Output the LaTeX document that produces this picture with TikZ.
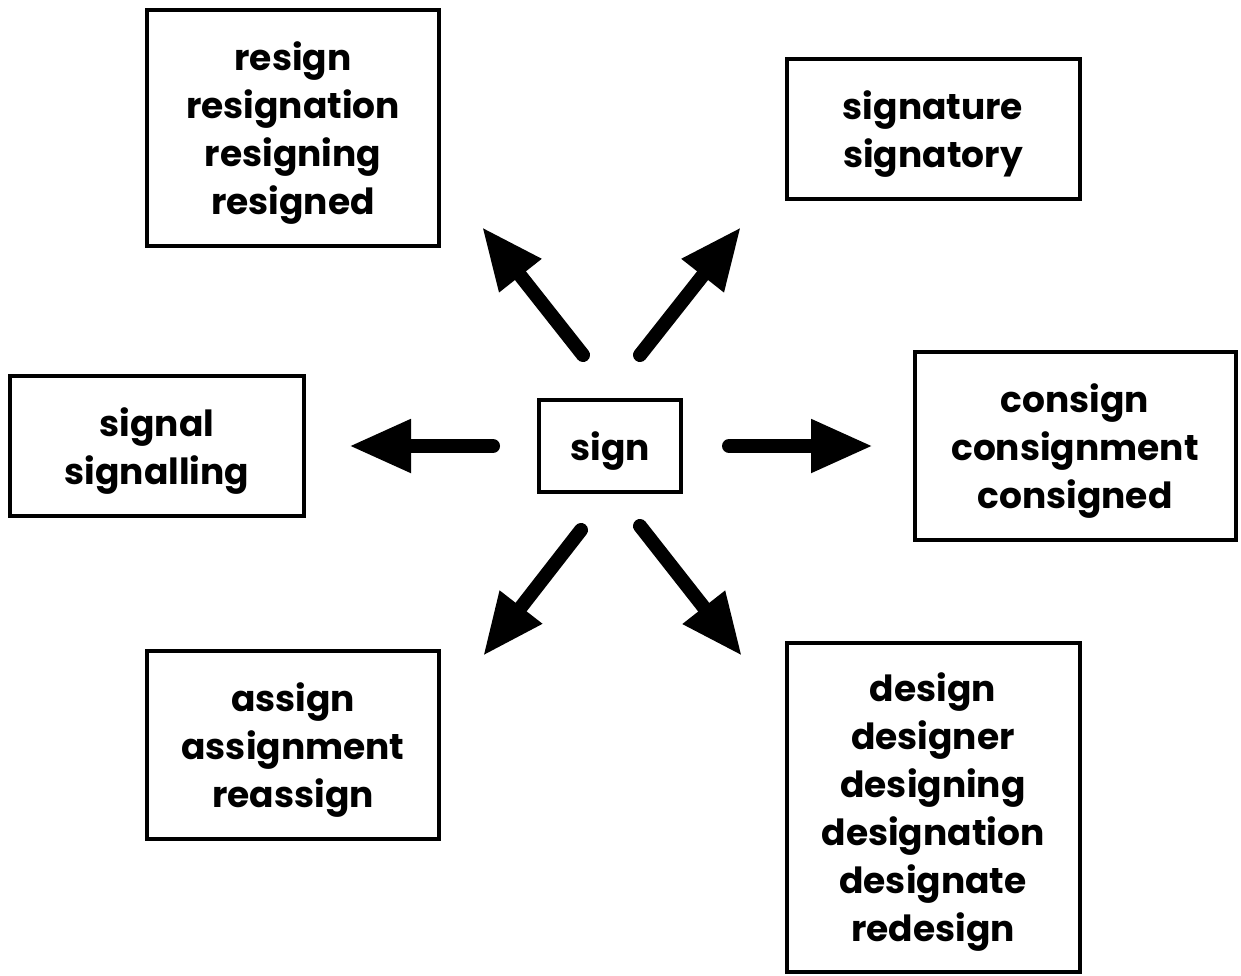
\documentclass[tikz,border=0pt]{standalone}
\usepackage{fontspec}
\setmainfont{Poppins}
\usetikzlibrary{positioning,arrows.meta}

\begin{document}
\begin{tikzpicture}
[x=1pt,y=-1pt,
 word/.style={draw,line width=4pt,inner sep=0pt},
 words/.style={align=center,inner sep=0pt,yshift=-5pt,
   font=\fontsize{36}{48}\selectfont\bfseries},
 arr/.style={line width=14pt,line cap=round,
   -{Triangle[length=62pt,width=50pt]}}]
\useasboundingbox (0,0) rectangle (1241,976);
% boxes
\node[word,minimum width=292pt,minimum height=236pt](resign) at (293,128){};
\node[word,minimum width=293pt,minimum height=140pt](signature) at (933,129){};
\node[word,minimum width=294pt,minimum height=140pt](signal) at (157,446){};
\node[word,minimum width=142pt,minimum height=92pt](sign) at (610,446){};
\node[word,minimum width=321pt,minimum height=188pt](consign) at (1075,446){};
\node[word,minimum width=292pt,minimum height=188pt](assign) at (293,745){};
\node[word,minimum width=293pt,minimum height=329pt](design) at (933,807){};
% texts
\node[words](resign-t) at (resign){resign\\resignation\\resigning\\resigned};
\node[words](signature-t) at (signature){signature\\signatory};
\node[words](signal-t) at (signal){signal\\signalling};
\node[words](sign-t) at (sign){sign};
\node[words](consign-t) at (consign){consign\\consignment\\consigned};
\node[words](assign-t) at (assign){assign\\assignment\\reassign};
\node[words](design-t) at (design){design\\designer\\designing\\designation\\designate\\redesign};
% arrow ends
\coordinate (ul) at (583,355); \coordinate (ul-tip) at (482,227);
\coordinate (ur) at (640,355); \coordinate (ur-tip) at (741,227);
\coordinate (l) at (493,446); \coordinate (l-tip) at (349,446);
\coordinate (r) at (729,446); \coordinate (r-tip) at (873,446);
\coordinate (dl) at (581,530); \coordinate (dl-tip) at (483,656);
\coordinate (dr) at (640,526); \coordinate (dr-tip) at (742,656);
\draw[arr] (ul) -- (ul-tip);
\draw[arr] (ur) -- (ur-tip);
\draw[arr] (l) -- (l-tip);
\draw[arr] (r) -- (r-tip);
\draw[arr] (dl) -- (dl-tip);
\draw[arr] (dr) -- (dr-tip);
\end{tikzpicture}
\end{document}
